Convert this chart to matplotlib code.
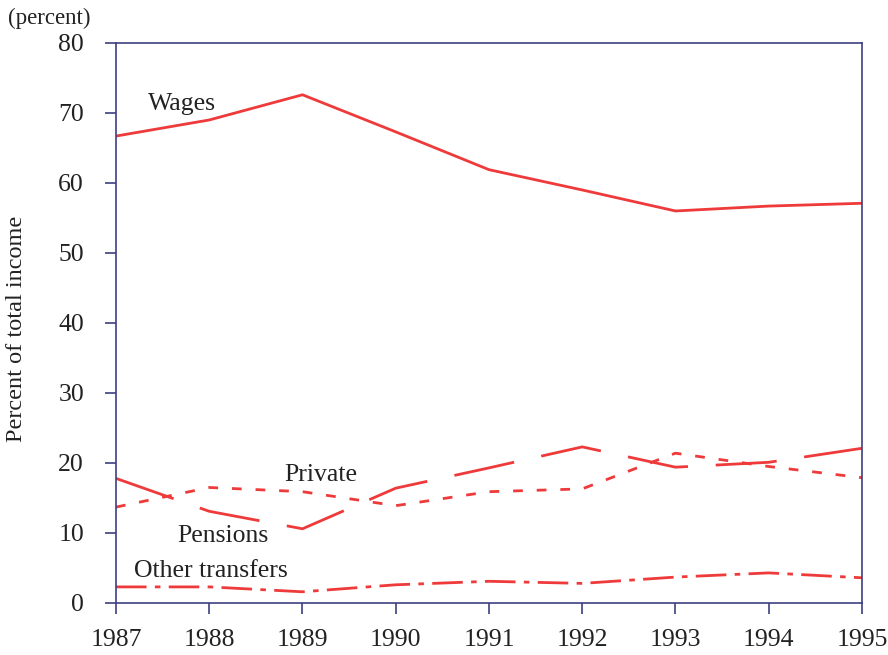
# income_shares.py - shares of total income by source, 1987-1995

import matplotlib.pyplot as plt

years = [1987, 1988, 1989, 1990, 1991, 1992, 1993, 1994, 1995]
wages = [66.7, 69.0, 72.6, 67.3, 61.9, 59.0, 56.0, 56.7, 57.1]
pensions = [17.8, 13.1, 10.6, 16.4, 19.3, 22.3, 19.4, 20.1, 22.1]
private = [13.7, 16.5, 15.9, 13.9, 15.9, 16.3, 21.4, 19.5, 17.9]
other = [2.3, 2.3, 1.6, 2.6, 3.1, 2.8, 3.7, 4.3, 3.6]

RED = "#ee3a3a"
NAVY = "#3d4080"
INK = "#222222"
FONT = "Liberation Serif"

plt.rcParams["font.family"] = FONT

fig = plt.figure(figsize=(8.88, 6.55), dpi=100)
ax = fig.add_axes([0.1306, 0.0794, 0.8401, 0.855])

lw = 2.0
ax.plot(years, wages, color=RED, lw=lw)
ax.plot(years, pensions, color=RED, lw=lw, dashes=(22, 10))
ax.plot(years, private, color=RED, lw=lw, dashes=(3.5, 5))
ax.plot(years, other, color=RED, lw=lw, dashes=(11, 3, 2, 3))

ax.set_xlim(1987, 1995)
ax.set_ylim(0, 80)
ax.set_xticks(years)
ax.set_yticks(range(0, 81, 10))

for s in ax.spines.values():
    s.set_color(NAVY)
    s.set_linewidth(1.2)
ax.tick_params(axis="both", colors=NAVY, length=8, width=1.2, labelsize=18.5,
               labelcolor=INK)
ax.tick_params(axis="y", pad=15)
ax.tick_params(axis="x", pad=11)

fig.text(17 / 888, 1 - 329 / 655, "Percent of total income", fontsize=17.5,
         color=INK, rotation=90, ha="center", va="center")
fig.text(0.009, 0.972, "(percent)", fontsize=16.5, color=INK, va="center")

# series labels
ax.text(1987.34, 71.3, "Wages", fontsize=18.5, color=INK, va="center")
ax.text(1988.8, 18.3, "Private", fontsize=18.5, color=INK, va="center")
ax.text(1987.66, 9.6, "Pensions", fontsize=18.5, color=INK, va="center")
ax.text(1987.19, 4.5, "Other transfers", fontsize=18.5, color=INK, va="center")

fig.savefig("out.png", dpi=100)
